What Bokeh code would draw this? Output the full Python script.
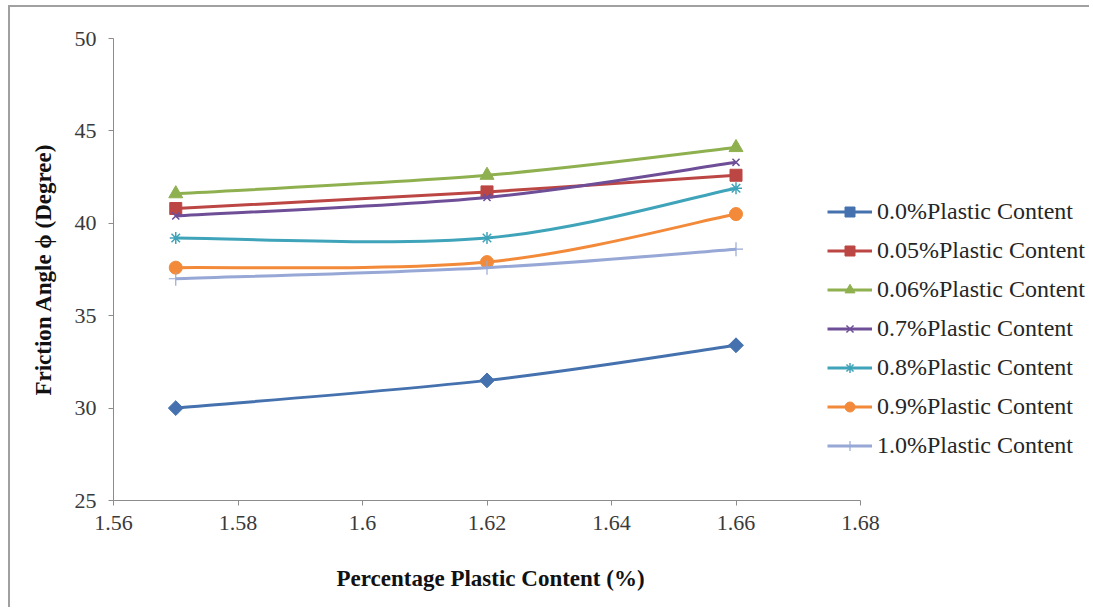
import numpy as np
from bokeh.plotting import figure
from bokeh.models import Range1d, FixedTicker, Legend, LegendItem, ColumnDataSource, Title
from bokeh.embed import file_html
from bokeh.resources import INLINE

# ---- data ----
x_values = [1.57, 1.62, 1.66]
series_names = ["0.0%Plastic Content", "0.05%Plastic Content", "0.06%Plastic Content",
                "0.7%Plastic Content", "0.8%Plastic Content", "0.9%Plastic Content",
                "1.0%Plastic Content"]
s_00 = [30.0, 31.5, 33.4]
s_005 = [40.8, 41.7, 42.6]
s_006 = [41.6, 42.6, 44.1]
s_07 = [40.4, 41.4, 43.3]
s_08 = [39.2, 39.2, 41.9]
s_09 = [37.6, 37.9, 40.5]
s_10 = [37.0, 37.6, 38.6]
x_ticks = [1.56, 1.58, 1.60, 1.62, 1.64, 1.66, 1.68]
x_tick_labels = ["1.56", "1.58", "1.6", "1.62", "1.64", "1.66", "1.68"]
y_ticks = [25, 30, 35, 40, 45, 50]
x_title = "Percentage Plastic Content (%)"
y_title = "Friction Angle \u03d5 (Degree)"

series_values = [s_00, s_005, s_006, s_07, s_08, s_09, s_10]
colors = ["#4572AE", "#BC4643", "#8FB04F", "#6F4E98", "#3FA4BA", "#F28A3A", "#97A8D6"]
markers = [("square", 10.5, np.pi / 4, 1), ("square", 12, 0, 1), ("triangle", 14, 0, 1),
           ("x", 10, 0, 1.5), ("asterisk", 12, 0, 1.5), ("circle", 13, 0, 1),
           ("cross", 14, 0, 1.2)]
filled = [True, True, True, False, False, True, False]

FONT = "Liberation Serif"

# ---- layout (pixels) ----
X_MIN, X_AXIS_END = 1.56, 1.68
AXIS_PX = 747          # pixel length of the drawn x axis (1.56 .. 1.68)
FRAME_PX = 978         # frame extends to the right so the legend is not clipped
x_end = X_MIN + (X_AXIS_END - X_MIN) * FRAME_PX / AXIS_PX


def smooth_segments(xs, ys, t=1.0 / 6.0):
    xs = np.asarray(xs, dtype=float)
    ys = np.asarray(ys, dtype=float)
    n = len(xs)
    d = dict(x0=[], y0=[], x1=[], y1=[], cx0=[], cy0=[], cx1=[], cy1=[])
    for i in range(n - 1):
        ip = max(i - 1, 0)
        inn = min(i + 2, n - 1)
        d["x0"].append(xs[i]); d["y0"].append(ys[i])
        d["x1"].append(xs[i + 1]); d["y1"].append(ys[i + 1])
        d["cx0"].append(xs[i] + (xs[i + 1] - xs[ip]) * t)
        d["cy0"].append(ys[i] + (ys[i + 1] - ys[ip]) * t)
        d["cx1"].append(xs[i + 1] - (xs[inn] - xs[i]) * t)
        d["cy1"].append(ys[i + 1] - (ys[inn] - ys[i]) * t)
    return d


p = figure(width=1081, height=602,
           x_range=Range1d(X_MIN, x_end), y_range=Range1d(25, 50),
           output_backend="svg", toolbar_location=None,
           min_border_left=103, min_border_right=0,
           min_border_top=31, min_border_bottom=109)
p.styles = {"margin-left": "8px", "margin-top": "5px",
            "border-top": "2px solid #a0a0a0", "border-left": "2px solid #a0a0a0"}

p.outline_line_color = None
p.xgrid.visible = False
p.ygrid.visible = False
p.background_fill_color = "white"
p.border_fill_color = "white"

for ax in (p.xaxis[0], p.yaxis[0]):
    ax.axis_line_color = "#8c8c8c"
    ax.axis_line_width = 1
    ax.major_tick_line_color = "#8c8c8c"
    ax.major_tick_out = 5
    ax.major_tick_in = 0
    ax.minor_tick_line_color = None
    ax.major_label_text_font = FONT
    ax.major_label_text_font_size = "22px"
    ax.major_label_text_color = "#3a3a3a"
    ax.axis_label_text_font = FONT
    ax.axis_label_text_font_size = "23px"
    ax.axis_label_text_font_style = "bold"
    ax.axis_label_text_color = "#111111"

p.xaxis.bounds = (X_MIN, X_AXIS_END)
p.xaxis.ticker = FixedTicker(ticks=x_ticks)
p.xaxis.major_label_overrides = {t: l for t, l in zip(x_ticks, x_tick_labels)}
p.yaxis.ticker = FixedTicker(ticks=y_ticks)
p.yaxis.axis_label = y_title
p.xaxis.major_label_standoff = 10
p.yaxis.major_label_standoff = 12
p.yaxis.axis_label_standoff = 16
# blank spacer label so the x title below sits lower without shrinking the frame
p.xaxis.axis_label = " "
p.xaxis.axis_label_text_font_size = "2px"
p.xaxis.axis_label_standoff = 21

# x-axis title centred under the drawn axis (not the widened frame)
xt = Title(text=x_title, align="left", offset=223, standoff=10,
           text_font=FONT, text_font_size="23px", text_font_style="bold",
           text_color="#111111")
p.add_layout(xt, "below")

items = []
for name, vals, col, mk, fl in zip(series_names, series_values, colors, markers, filled):
    src = ColumnDataSource(smooth_segments(x_values, vals))
    bez = p.bezier(x0="x0", y0="y0", x1="x1", y1="y1", cx0="cx0", cy0="cy0",
                   cx1="cx1", cy1="cy1", source=src, line_color=col, line_width=3)
    mname, msize, mangle, mlw = mk
    sc = p.scatter(x=x_values, y=vals, marker=mname, size=msize, angle=mangle,
                   line_color=col, line_width=mlw,
                   fill_color=col if fl else None)
    items.append(LegendItem(label=name, renderers=[bez, sc]))

legend = Legend(items=items, location=(714, 41), orientation="vertical",
                label_text_font=FONT, label_text_font_size="24px",
                label_text_color="#262626",
                glyph_width=45, glyph_height=25, label_height=25,
                label_standoff=5, spacing=12, padding=0, margin=0,
                border_line_alpha=0, background_fill_alpha=0)
p.add_layout(legend)

open("out.html", "w").write(file_html(p, INLINE))
